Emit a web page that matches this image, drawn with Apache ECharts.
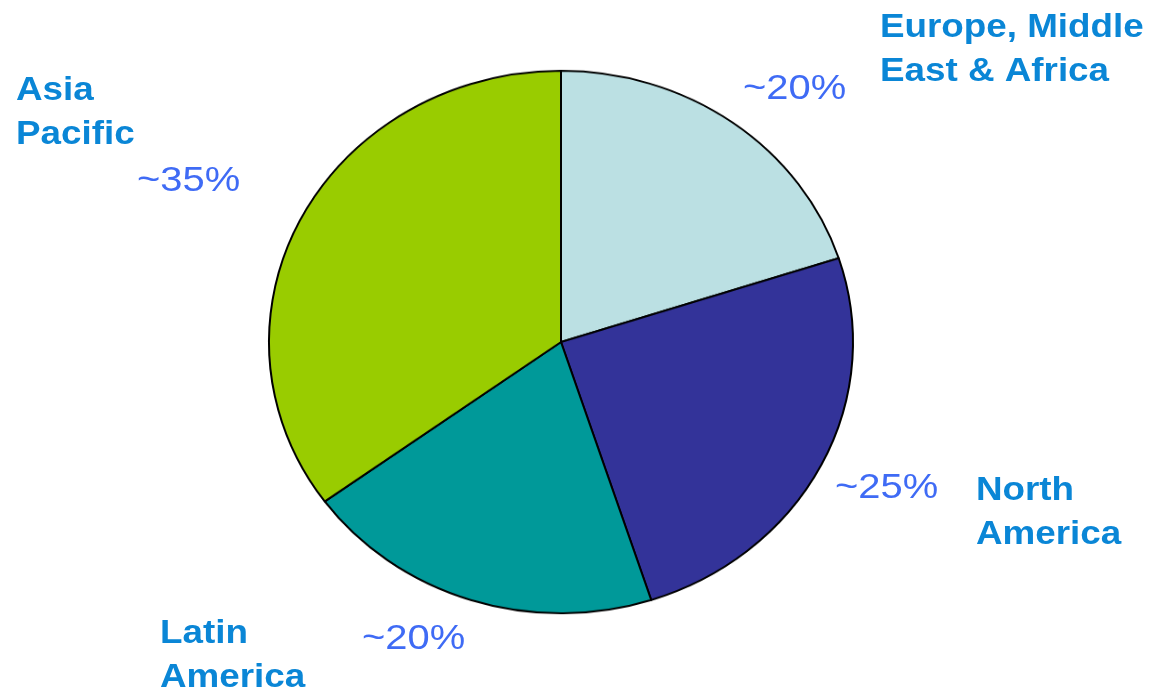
<!DOCTYPE html>
<html>
<head>
<meta charset="utf-8">
<script src="https://cdn.jsdelivr.net/npm/echarts@6/dist/echarts.min.js"></script>
<style>
html,body{margin:0;padding:0;background:#fff;}
#wrap{position:relative;width:1150px;height:693px;overflow:hidden;}
#pie{position:absolute;left:0;top:0;width:1150px;height:693px;transform-origin:561px 342px;transform:scaleY(0.929);}
#labels{position:absolute;left:0;top:0;width:1150px;height:693px;}
</style>
</head>
<body>
<div id="wrap"><div id="pie"></div><div id="labels"></div></div>
<script>
const regions = ['Europe, Middle\nEast & Africa', 'North\nAmerica', 'Latin\nAmerica', 'Asia\nPacific'];
const shares = [20, 25, 20, 35];
const sliceColors = ['#BBE0E3', '#333399', '#009999', '#99CC00'];

const pie = echarts.init(document.getElementById('pie'), null, {renderer: 'canvas'});
pie.setOption({
  animation: false,
  series: [{
    type: 'pie',
    center: [561, 342],
    radius: 292,
    startAngle: 90,
    clockwise: true,
    label: {show: false},
    labelLine: {show: false},
    itemStyle: {borderColor: '#000', borderWidth: 2},
    emphasis: {disabled: true},
    data: regions.map((n, i) => ({name: n, value: shares[i], itemStyle: {color: sliceColors[i]}}))
  }]
});

// label placement (layout only)
const namePos = [[880, 6], [976, 469], [160, 612], [16, 69]];
const pctPos = [[743, 69], [835, 468], [362, 619], [137, 161]];
const nameFont = {fontFamily: 'Liberation Sans, Arial, sans-serif', fontWeight: 'bold', fontSize: 33, lineHeight: 44};
const pctFont = {fontFamily: 'Liberation Sans, Arial, sans-serif', fontSize: 35, lineHeight: 40};

const elements = [];
regions.forEach((n, i) => {
  elements.push({type: 'text', x: namePos[i][0], y: namePos[i][1], scaleX: 1.115,
    style: Object.assign({text: n, fill: '#0A86D6', textVerticalAlign: 'top', textAlign: 'left'}, nameFont)});
  elements.push({type: 'text', x: pctPos[i][0], y: pctPos[i][1], scaleX: 1.14,
    style: Object.assign({text: '~' + shares[i] + '%', fill: '#3F6BF5', textVerticalAlign: 'top', textAlign: 'left'}, pctFont)});
});
const lab = echarts.init(document.getElementById('labels'), null, {renderer: 'canvas'});
lab.setOption({animation: false, graphic: {elements: elements}});
</script>
</body>
</html>
